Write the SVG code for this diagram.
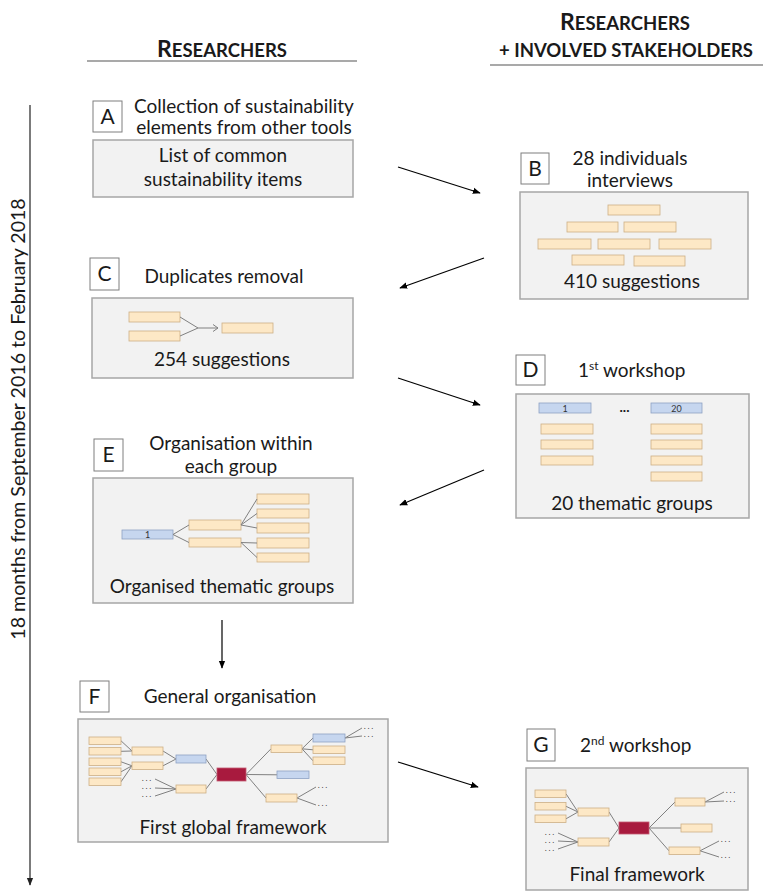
<svg xmlns="http://www.w3.org/2000/svg" width="763" height="893" viewBox="0 0 763 893">
<defs>
<style>
text{font-family:Lato,"Open Sans","Liberation Sans",sans-serif;fill:#1a1a1a}
.t{font-size:19px;text-anchor:middle}
.hd{font-weight:700;text-anchor:middle;font-size:18.5px}
.hl{stroke:#555;stroke-width:1.2}
.lb{fill:#fff;stroke:#7f7f7f;stroke-width:1}
.lt{font-size:21px;text-anchor:middle}
.pn{fill:#f2f2f2;stroke:#a6a6a6;stroke-width:1.5}
.y{fill:#fde8c6;stroke:#cdaf86;stroke-width:0.8}
.b{fill:#c6d6ef;stroke:#8ea2c4;stroke-width:0.8}
.r{fill:#a81a3e;stroke:#c45a72;stroke-width:0.8}
.tl{stroke:#808080;stroke-width:1;fill:none}
.ar{stroke:#000;stroke-width:1.2;fill:none;marker-end:url(#ah)}
.dt{font-size:6.5px;fill:#444;letter-spacing:2.2px;font-weight:700}
.bt{font-size:9px;fill:#333;text-anchor:middle}
</style>
<marker id="ah" viewBox="0 0 10 10" refX="9" refY="5" markerWidth="8" markerHeight="8" markerUnits="userSpaceOnUse" orient="auto"><path d="M0,1 L10,5 L0,9 z" fill="#000"/></marker>
<marker id="ax" viewBox="0 0 10 10" refX="9" refY="5" markerWidth="8" markerHeight="8" markerUnits="userSpaceOnUse" orient="auto"><path d="M0,1 L10,5 L0,9 z" fill="#222"/></marker>
</defs>
<rect width="763" height="893" fill="#fff"/>

<g id="headers">
<text class="hd" x="222" y="57"><tspan font-size="23">R</tspan>ESEARCHERS</text>
<line class="hl" x1="87" y1="61" x2="357" y2="61"/>
<text class="hd" x="625" y="30"><tspan font-size="23">R</tspan>ESEARCHERS</text>
<text class="hd" x="626" y="57" font-size="19.3">+ INVOLVED STAKEHOLDERS</text>
<line class="hl" x1="490" y1="65" x2="763" y2="65"/>
</g>

<g id="timeline">
<line x1="30" y1="105" x2="30" y2="885" stroke="#333" stroke-width="1.3" marker-end="url(#ax)"/>
<text transform="translate(25,419) rotate(-90)" font-size="19.6" text-anchor="middle">18 months from September 2016 to February 2018</text>
</g>

<g id="connectors">
<line class="ar" x1="398" y1="167" x2="480" y2="193"/>
<line class="ar" x1="484" y1="258" x2="400" y2="288"/>
<line class="ar" x1="398" y1="378" x2="480" y2="405"/>
<line class="ar" x1="484" y1="470" x2="400" y2="505"/>
<line class="ar" x1="222" y1="620" x2="222" y2="668"/>
<line class="ar" x1="398" y1="762" x2="478" y2="787"/>
</g>

<g id="A">
<rect class="lb" x="93" y="101" width="29" height="31"/>
<text class="lt" x="107.5" y="124">A</text>
<text class="t" x="244" y="113">Collection of sustainability</text>
<text class="t" x="244" y="134">elements from other tools</text>
<rect class="pn" x="93" y="140" width="260" height="57"/>
<text class="t" x="223" y="162">List of common</text>
<text class="t" x="223" y="186">sustainability items</text>
</g>

<g id="B">
<rect class="lb" x="521" y="153" width="28" height="31"/>
<text class="lt" x="535" y="176">B</text>
<text class="t" x="630" y="165">28 individuals</text>
<text class="t" x="630" y="187">interviews</text>
<rect class="pn" x="520" y="192" width="228" height="107"/>
<rect class="y" x="608" y="205" width="52" height="10"/>
<rect class="y" x="567" y="222" width="51" height="10"/>
<rect class="y" x="624" y="222" width="52" height="10"/>
<rect class="y" x="538" y="239" width="53" height="10"/>
<rect class="y" x="598" y="239" width="52" height="10"/>
<rect class="y" x="659" y="239" width="52" height="10"/>
<rect class="y" x="572" y="255" width="52" height="10"/>
<rect class="y" x="634" y="256" width="51" height="10"/>
<text class="t" x="632" y="288">410 suggestions</text>
</g>

<g id="C">
<rect class="lb" x="90" y="258" width="29" height="32"/>
<text class="lt" x="104.5" y="281">C</text>
<text class="t" x="224" y="283">Duplicates removal</text>
<rect class="pn" x="92" y="298" width="261" height="80"/>
<rect class="y" x="129" y="312" width="51" height="10"/>
<rect class="y" x="129" y="331" width="51" height="10"/>
<rect class="y" x="222" y="323" width="51" height="10"/>
<path class="tl" d="M180,317 L198,328 M180,336 L198,328 L218,328 M213,324.5 L218,328 L213,331.5"/>
<text class="t" x="222" y="366">254 suggestions</text>
</g>

<g id="D">
<rect class="lb" x="516" y="355" width="29" height="30"/>
<text class="lt" x="530.5" y="377">D</text>
<text font-size="19" x="578" y="377">1<tspan font-size="12" dy="-7">st</tspan><tspan dy="7"> workshop</tspan></text>
<rect class="pn" x="516" y="394" width="233" height="124"/>
<rect class="b" x="539" y="403" width="52" height="10"/>
<text class="bt" x="565" y="411.5">1</text>
<rect class="b" x="651" y="403" width="51" height="10"/>
<text class="bt" x="676.5" y="411.5">20</text>
<text x="624.5" y="412" font-size="14" font-weight="700" text-anchor="middle">...</text>
<rect class="y" x="541" y="424" width="52" height="10"/>
<rect class="y" x="541" y="440" width="52" height="9"/>
<rect class="y" x="541" y="456" width="52" height="9"/>
<rect class="y" x="651" y="424" width="51" height="10"/>
<rect class="y" x="651" y="440" width="51" height="9"/>
<rect class="y" x="651" y="456" width="51" height="9"/>
<rect class="y" x="651" y="472" width="51" height="9"/>
<text class="t" x="632" y="510">20 thematic groups</text>
</g>

<g id="E">
<rect class="lb" x="94" y="439" width="29" height="32"/>
<text class="lt" x="108.5" y="462">E</text>
<text class="t" x="231" y="450">Organisation within</text>
<text class="t" x="231" y="473">each group</text>
<rect class="pn" x="93" y="478" width="260" height="125"/>
<rect class="b" x="122" y="530" width="51" height="9"/>
<text class="bt" x="147.5" y="538">1</text>
<rect class="y" x="189" y="520" width="52" height="10"/>
<rect class="y" x="189" y="538" width="52" height="9"/>
<rect class="y" x="257" y="494" width="52" height="10"/>
<rect class="y" x="257" y="509" width="52" height="9"/>
<rect class="y" x="257" y="523" width="52" height="10"/>
<rect class="y" x="257" y="538" width="52" height="10"/>
<rect class="y" x="257" y="553" width="52" height="9"/>
<path class="tl" d="M173,534.5 L189,525 M173,534.5 L189,542.5 M241,525 L257,499 M241,525 L257,513.5 M241,525 L257,528 M241,542.5 L257,543 M241,542.5 L257,557.5"/>
<text class="t" x="222" y="593">Organised thematic groups</text>
</g>

<g id="F">
<rect class="lb" x="80" y="681" width="29" height="31"/>
<text class="lt" x="94.5" y="704">F</text>
<text class="t" x="230" y="703">General organisation</text>
<rect class="pn" x="78" y="719" width="310" height="123"/>
<path class="tl" d="M121,740.8 L132,751 M121,751.3 L132,751 M121,761.8 L132,765.8 M121,771.8 L132,765.8 M121,781.8 L132,765.8 M163,751 L176,759 M163,765.8 L176,759 M155,779 L176,789 M155,788 L176,789 M155,796 L176,789 M206,759 L217,774.5 M206,789 L217,774.5 M246,774.5 L271,748.8 M246,774.5 L277,774.8 M246,774.5 L266,798 M302,748.8 L313,738 M302,748.8 L313,749.8 M302,748.8 L313,760.8 M345,738 L362,728 M345,738 L362,736 M297,798 L316,787 M297,798 L316,805"/>
<rect class="y" x="89" y="737" width="32" height="7.5"/>
<rect class="y" x="89" y="747.5" width="32" height="7.5"/>
<rect class="y" x="89" y="758" width="32" height="7.5"/>
<rect class="y" x="89" y="768" width="32" height="7.5"/>
<rect class="y" x="89" y="778" width="32" height="7.5"/>
<rect class="y" x="132" y="747" width="31" height="8"/>
<rect class="y" x="132" y="762" width="31" height="7.5"/>
<rect class="b" x="176" y="755" width="30" height="8"/>
<rect class="y" x="176" y="785" width="30" height="8"/>
<rect class="r" x="217" y="768" width="29" height="13"/>
<rect class="y" x="271" y="745" width="31" height="7.5"/>
<rect class="b" x="277" y="771" width="32" height="7.5"/>
<rect class="y" x="266" y="794" width="31" height="8"/>
<rect class="b" x="313" y="734" width="32" height="8"/>
<rect class="y" x="313" y="746" width="32" height="7.5"/>
<rect class="y" x="313" y="757" width="32" height="7.5"/>
<text class="dt" x="142" y="781">...</text>
<text class="dt" x="142" y="789">...</text>
<text class="dt" x="142" y="797">...</text>
<text class="dt" x="364" y="729">...</text>
<text class="dt" x="364" y="737">...</text>
<text class="dt" x="318" y="788">...</text>
<text class="dt" x="318" y="806">...</text>
<text class="t" x="233" y="834">First global framework</text>
</g>

<g id="G">
<rect class="lb" x="527" y="729" width="28" height="32"/>
<text class="lt" x="541" y="752">G</text>
<text font-size="19" x="580" y="752">2<tspan font-size="12" dy="-7">nd</tspan><tspan dy="7"> workshop</tspan></text>
<rect class="pn" x="526" y="768" width="222" height="122"/>
<path class="tl" d="M566,793.8 L578,812 M566,806.3 L578,812 M566,818.8 L578,812 M558,833 L578,842 M558,841 L578,842 M558,849 L578,842 M609,812 L619,828 M609,842 L619,828 M649,828 L675,802 M649,828 L681,828 M649,828 L669,850.8 M705,802 L724,792 M705,802 L724,801 M700,850.8 L719,841 M700,850.8 L719,857"/>
<rect class="y" x="535" y="790" width="31" height="7.5"/>
<rect class="y" x="535" y="802.5" width="31" height="7.5"/>
<rect class="y" x="535" y="815" width="31" height="7.5"/>
<rect class="y" x="578" y="808" width="31" height="8"/>
<rect class="y" x="578" y="838" width="31" height="8"/>
<rect class="r" x="619" y="822" width="30" height="12"/>
<rect class="y" x="675" y="798" width="30" height="8"/>
<rect class="y" x="681" y="824" width="31" height="8"/>
<rect class="y" x="669" y="847" width="31" height="7.5"/>
<text class="dt" x="545" y="835">...</text>
<text class="dt" x="545" y="843">...</text>
<text class="dt" x="545" y="851">...</text>
<text class="dt" x="726" y="793">...</text>
<text class="dt" x="726" y="802">...</text>
<text class="dt" x="721" y="842">...</text>
<text class="dt" x="721" y="858">...</text>
<text class="t" x="637" y="881">Final framework</text>
</g>
</svg>
